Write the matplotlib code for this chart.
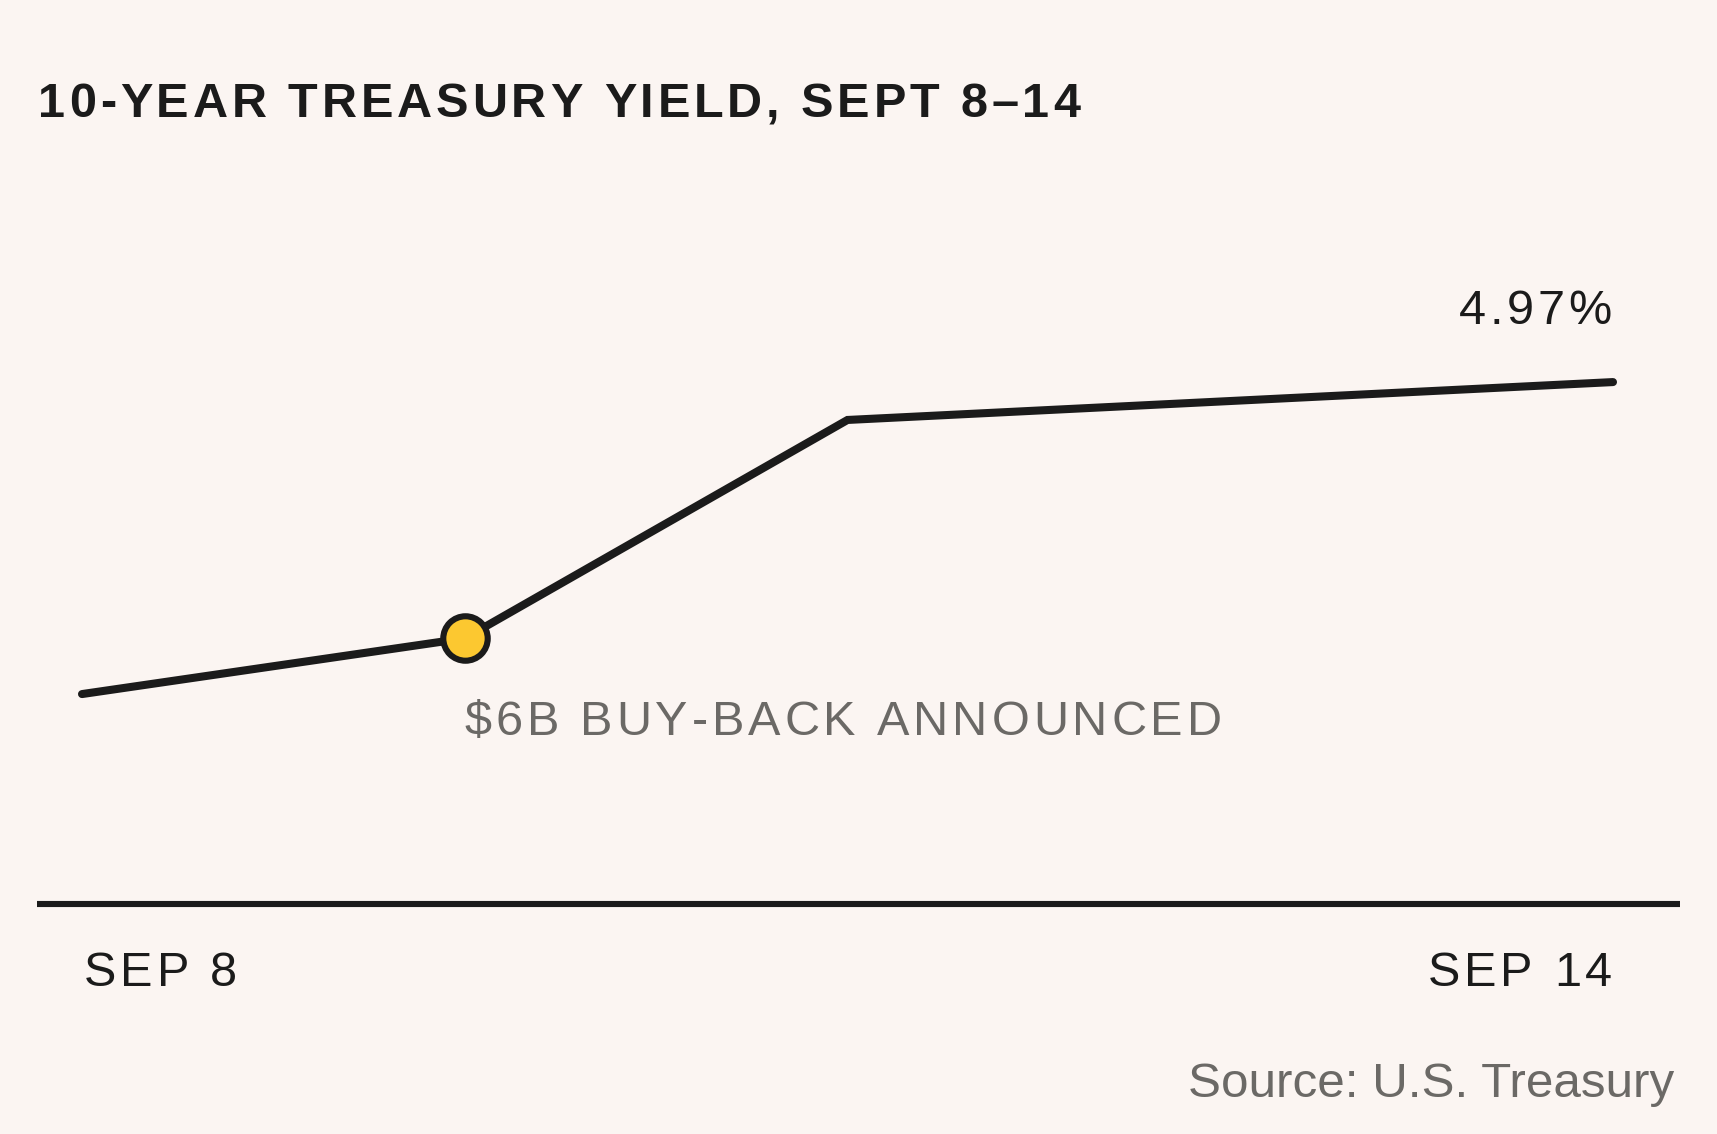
import matplotlib
matplotlib.use("Agg")
import matplotlib.pyplot as plt
from matplotlib import font_manager as fm
from matplotlib.ft2font import FT2Font

# ---- data ----
days = [8, 9.5, 11, 14]
yields = [4.83, 4.855, 4.953, 4.97]
event_index = 1
title = "10-YEAR TREASURY YIELD, SEPT 8\u201314"
end_label = "4.97%"
event_label = "$6B BUY-BACK ANNOUNCED"
tick_days = [8, 14]
tick_labels = ["SEP 8", "SEP 14"]
source = "Source: U.S. Treasury"

W, H, DPI = 1717, 1134, 100
BG = "#FBF5F2"
INK = "#1B1B1B"
GRAY = "#6B6966"
YELLOW = "#FCC830"
FAMILY = "Liberation Sans"

fig = plt.figure(figsize=(W / DPI, H / DPI), dpi=DPI, facecolor=BG)
L, R = 37, 1680
ax = fig.add_axes([L / W, 1 - 904 / H, (R - L) / W, (904 - 200) / H])
ax.set_facecolor(BG)
ax.plot(days, yields, color=INK, lw=5.8, solid_capstyle="round",
        solid_joinstyle="miter", zorder=3, clip_on=False)
ax.plot(days[event_index], yields[event_index], "o", ms=32, mfc=YELLOW,
        mec=INK, mew=4.4, zorder=4, clip_on=False)
ppd = (1613 - 82) / 6.0
ax.set_xlim(8 - (82 - L) / ppd, 14 + (R - 1613) / ppd)
ax.set_ylim(4.7358, 5.0517)
for s in ["top", "left", "right"]:
    ax.spines[s].set_visible(False)
ax.spines["bottom"].set_linewidth(4.4)
ax.spines["bottom"].set_color(INK)
ax.spines["bottom"].set_capstyle("butt")
ax.set_xticks([])
ax.set_yticks([])


def advances(text, prop):
    font = FT2Font(fm.findfont(prop), hinting_factor=1)
    font.set_size(prop.get_size_in_points(), DPI)
    out = []
    for c in text:
        g = font.load_char(ord(c))
        out.append(g.linearHoriAdvance / 65536.0)
    return out


def tracked(x_px, y_px, text, size, weight="normal", color=INK,
            track=0.075, ha="left"):
    prop = fm.FontProperties(family=FAMILY, weight=weight, size=size)
    adv = advances(text, prop)
    sp = track * size * DPI / 72.0
    total = sum(adv) + sp * (len(text) - 1)
    x = x_px - total if ha == "right" else x_px
    for c, a in zip(text, adv):
        if c != " ":
            fig.text(x / W, y_px / H, c, fontproperties=prop, color=color,
                     ha="left", va="baseline")
        x += a + sp


fig.canvas.draw()
to_px = ax.transData.transform

# title
tracked(38, H - 117, title, 35, weight="bold", track=0.075)

# end value label
ex, ey = to_px((days[-1], yields[-1]))
tracked(ex - 1, ey + 58, end_label, 35, ha="right")

# event label
mx, my = to_px((days[event_index], yields[event_index]))
tracked(mx, my - 97, event_label, 35, color=GRAY)

# x tick labels
axis_y = to_px((days[0], ax.get_ylim()[0]))[1]
for d, lab in zip(tick_days, tick_labels):
    px = to_px((d, yields[0]))[0]
    if d == tick_days[0]:
        tracked(px + 2, axis_y - 82, lab, 35)
    else:
        tracked(px - 1, axis_y - 82, lab, 35, ha="right")

# source
fig.text(1674 / W, (H - 1097) / H, source, family=FAMILY, size=35.6,
         color=GRAY, ha="right", va="baseline")

fig.savefig("out.png", dpi=DPI, facecolor=BG)
